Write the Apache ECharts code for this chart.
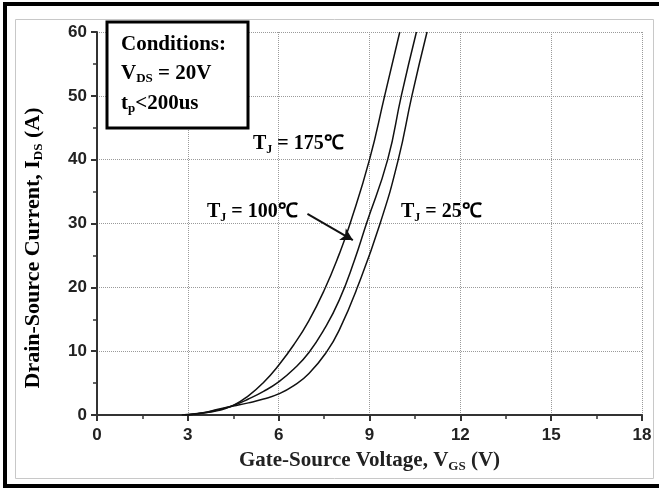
<!DOCTYPE html>
<html>
<head>
<meta charset="utf-8">
<script src="https://cdn.jsdelivr.net/npm/echarts@6/dist/echarts.min.js"></script>
<style>
  html, body { margin: 0; padding: 0; background: #fff; }
  #chart { width: 659px; height: 493px; }
</style>
</head>
<body>
<div id="chart"></div>
<script type="text/javascript">
	// 读图得到的转移特性曲线 [VGS, IDS]
	var tj175 = [[2.8, 0], [3.5, 0.3], [4, 0.7], [4.5, 1.5], [5, 3.0], [5.5, 5.1], [6, 7.8], [6.5, 11.0],
		[7, 14.8], [7.5, 19.5], [8, 25.2], [8.36, 30], [9.0, 40], [9.5, 50], [10.0, 60]];
	var tj100 = [[2.9, 0], [3.5, 0.3], [4, 0.8], [4.5, 1.5], [5, 2.5], [5.5, 3.7], [6, 5.2], [6.5, 7.2],
		[7, 9.8], [7.5, 13.4], [8, 18], [8.5, 24.2], [8.9, 30], [9.6, 40], [10.05, 50], [10.55, 60]];
	var tj25 = [[3.0, 0], [3.5, 0.35], [4, 0.9], [4.5, 1.4], [5, 1.9], [5.5, 2.5], [6, 3.3], [6.5, 4.6],
		[7, 6.5], [7.6, 10], [8, 13.3], [8.6, 20], [9.35, 30], [9.95, 40], [10.4, 50], [10.9, 60]];
	var xTicks = [0, 3, 6, 9, 12, 15, 18];
	var yTicks = [0, 10, 20, 30, 40, 50, 60];

	var serif = "'Liberation Serif', 'Times New Roman', serif";
	var sans = "'Liberation Sans', Arial, sans-serif";
	function richSet(big, small, drop) {
		return {
			m : { fontFamily : serif, fontWeight : 'bold', fontSize : big, color : '#222' },
			s : { fontFamily : serif, fontWeight : 'bold', fontSize : small, color : '#222', padding : [ drop, 0, 0, 0 ] }
		};
	}
	var lineStyle = { color : '#111', width : 1.5 };

	var option = {
		animation : false,
		backgroundColor : '#fff',
		grid : { left : 97, top : 32, right : 17, bottom : 78 },
		xAxis : {
			type : 'value',
			min : xTicks[0],
			max : xTicks[xTicks.length - 1],
			interval : 3,
			name : '{m|Gate-Source Voltage, V}{s|GS}{m| (V)}',
			nameLocation : 'middle',
			nameGap : 33,
			nameTextStyle : { rich : richSet(21, 13, 12) },
			axisLine : { lineStyle : { color : '#333', width : 2 } },
			axisTick : { length : 6, lineStyle : { color : '#333', width : 2 } },
			minorTick : { show : true, splitNumber : 2, length : 4, lineStyle : { color : '#333', width : 1.5 } },
			axisLabel : { margin : 12, fontFamily : sans, fontWeight : 'bold', fontSize : 17, color : '#222' },
			splitLine : { show : true, lineStyle : { color : '#9a9a9a', type : 'dotted', width : 1 } }
		},
		yAxis : {
			type : 'value',
			min : yTicks[0],
			max : yTicks[yTicks.length - 1],
			interval : 10,
			axisLine : { show : true, lineStyle : { color : '#333', width : 2 } },
			axisTick : { show : true, length : 6, lineStyle : { color : '#333', width : 2 } },
			minorTick : { show : true, splitNumber : 2, length : 4, lineStyle : { color : '#333', width : 1.5 } },
			axisLabel : { margin : 10, fontFamily : sans, fontWeight : 'bold', fontSize : 17, color : '#222' },
			splitLine : { show : true, lineStyle : { color : '#9a9a9a', type : 'dotted', width : 1 } }
		},
		graphic : [
			{ type : 'rect', shape : { x : 5, y : 4, width : 680, height : 482 }, style : { fill : 'none', stroke : '#000', lineWidth : 4 }, z : 100 },
			{ type : 'rect', shape : { x : 15.5, y : 19.5, width : 638, height : 459 }, style : { fill : 'none', stroke : '#c8c8c8', lineWidth : 1 }, z : 100 },
			{ type : 'rect', shape : { x : 107, y : 22, width : 141, height : 106 }, style : { fill : '#fff', stroke : '#000', lineWidth : 3 }, z : 100 },
			{ type : 'text', left : 121, top : 34, z : 101, style : { text : '{m|Conditions:}', rich : richSet(21, 13, 10) } },
			{ type : 'text', left : 121, top : 63, z : 101, style : { text : '{m|V}{s|DS}{m| = 20V}', rich : richSet(21, 13, 10) } },
			{ type : 'text', left : 121, top : 93, z : 101, style : { text : '{m|t}{s|p}{m|<200us}', rich : richSet(21, 13, 11) } },
			{ type : 'text', left : 253, top : 134, z : 101, style : { text : '{m|T}{s|J}{m| = 175℃}', rich : richSet(20, 12, 11) } },
			{ type : 'text', left : 207, top : 202, z : 101, style : { text : '{m|T}{s|J}{m| = 100℃}', rich : richSet(20, 12, 11) } },
			{ type : 'text', left : 401, top : 202, z : 101, style : { text : '{m|T}{s|J}{m| = 25℃}', rich : richSet(20, 12, 11) } },
			{ type : 'text', x : 33, y : 248, rotation : Math.PI / 2, z : 101,
				style : { text : '{m|Drain-Source Current, I}{s|DS}{m| (A)}', rich : richSet(22, 13, 12), align : 'center', verticalAlign : 'middle' } }
		],
		series : [ {
			name : 'TJ=175',
			type : 'line',
			smooth : true,
			showSymbol : false,
			data : tj175,
			lineStyle : lineStyle
		}, {
			name : 'TJ=100',
			type : 'line',
			smooth : true,
			showSymbol : false,
			data : tj100,
			lineStyle : lineStyle,
			markLine : {
				silent : true,
				symbol : [ 'none', 'arrow' ],
				symbolSize : [ 10, 12 ],
				label : { show : false },
				lineStyle : { color : '#111', width : 2, type : 'solid' },
				data : [ [ { coord : [ 6.95, 31.5 ] }, { coord : [ 8.45, 27.4 ] } ] ]
			}
		}, {
			name : 'TJ=25',
			type : 'line',
			smooth : true,
			showSymbol : false,
			data : tj25,
			lineStyle : lineStyle
		} ]
	};

	var chart = echarts.init(document.getElementById('chart'));
	chart.setOption(option);
</script>
</body>
</html>
